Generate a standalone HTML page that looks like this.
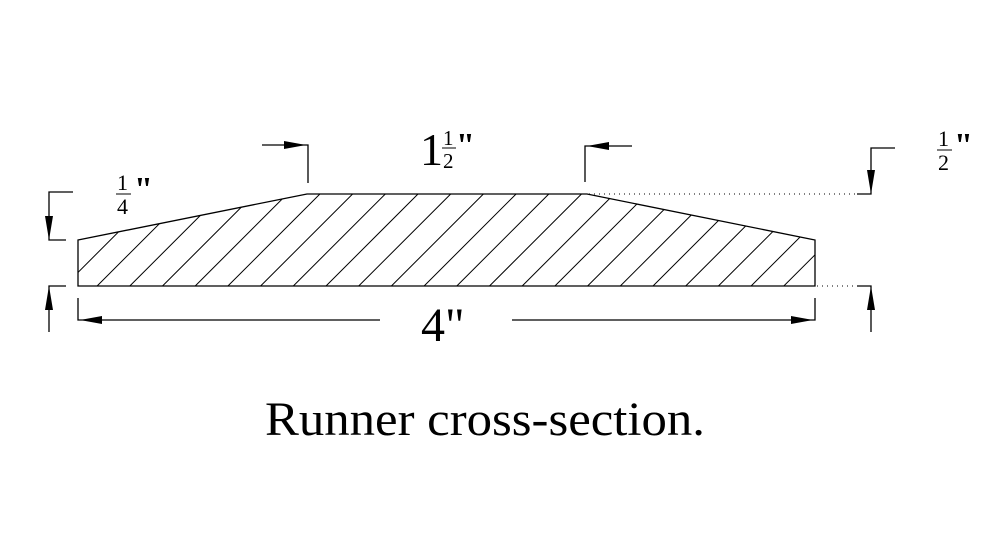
<!DOCTYPE html>
<html><head><meta charset="utf-8"><style>
html,body{margin:0;padding:0;background:#fff;}
svg{display:block;}
text{font-family:"Liberation Serif",serif;fill:#000;}
</style></head><body>
<svg width="1003" height="543" viewBox="0 0 1003 543" xmlns="http://www.w3.org/2000/svg">
<defs>
<clipPath id="c"><polygon points="78,240 307,194 587,194 815,240 815,286 78,286"/></clipPath>
</defs>
<g clip-path="url(#c)" stroke="#000" stroke-width="1">
<path d="M-0.9,286L91.1,194M31.7,286L123.7,194M64.4,286L156.4,194M97.1,286L189.1,194M129.8,286L221.8,194M162.5,286L254.5,194M195.2,286L287.2,194M227.9,286L319.9,194M260.6,286L352.6,194M293.3,286L385.3,194M326,286L418,194M358.7,286L450.7,194M391.4,286L483.4,194M424.1,286L516.1,194M456.8,286L548.8,194M489.5,286L581.5,194M522.2,286L614.2,194M554.9,286L646.9,194M587.6,286L679.6,194M620.3,286L712.3,194M653,286L745,194M685.7,286L777.7,194M718.4,286L810.4,194M751.1,286L843.1,194M783.8,286L875.8,194"/>
</g>
<g stroke="#000" stroke-width="1.3" fill="none">
<polygon points="78,240 307,194 587,194 815,240 815,286 78,286"/>
<polyline points="73,192 49,192 49,240 66,240"/>
<polyline points="66,286 49,286 49,332"/>
<polyline points="262,145 308,145 308,183"/>
<polyline points="632,146 585,146 585,182"/>
<polyline points="895,148 871,148 871,194 857,194"/>
<polyline points="857,286 871,286 871,332"/>
<polyline points="78,298 78,320 380,320"/>
<polyline points="512,320 815,320 815,298"/>
</g>
<g stroke="#000" stroke-width="1" stroke-dasharray="1,4">
<line x1="589" y1="194" x2="857" y2="194"/>
<line x1="817" y1="286" x2="857" y2="286"/>
</g>
<g fill="#000">
<polygon points="49,240 45,216 53,216"/>
<polygon points="49,286 45,310 53,310"/>
<polygon points="306,145 284,141 284,149"/>
<polygon points="587,146 609,142 609,150"/>
<polygon points="871,194 867,170 875,170"/>
<polygon points="871,286 867,310 875,310"/>
<polygon points="80,320 102,316 102,324"/>
<polygon points="813,320 791,316 791,324"/>
</g>
<text x="420" y="165" font-size="46">1</text>
<text x="443" y="145" font-size="21">1</text>
<line x1="442" y1="148" x2="456" y2="148" stroke="#000" stroke-width="1"/>
<text x="443" y="168" font-size="21">2</text>
<text x="456" y="156" font-size="34" font-weight="bold">"</text>
<text x="117" y="190" font-size="22">1</text>
<line x1="116" y1="194" x2="131" y2="194" stroke="#000" stroke-width="1"/>
<text x="117" y="214" font-size="22">4</text>
<text x="134" y="200" font-size="34" font-weight="bold">"</text>
<text x="938" y="146" font-size="22">1</text>
<line x1="937" y1="150" x2="952" y2="150" stroke="#000" stroke-width="1"/>
<text x="938" y="170" font-size="22">2</text>
<text x="954" y="156" font-size="34" font-weight="bold">"</text>
<text x="421" y="341" font-size="48">4"</text>
<text x="265" y="435" font-size="48" textLength="440" lengthAdjust="spacingAndGlyphs">Runner cross-section.</text>
</svg>
</body></html>
